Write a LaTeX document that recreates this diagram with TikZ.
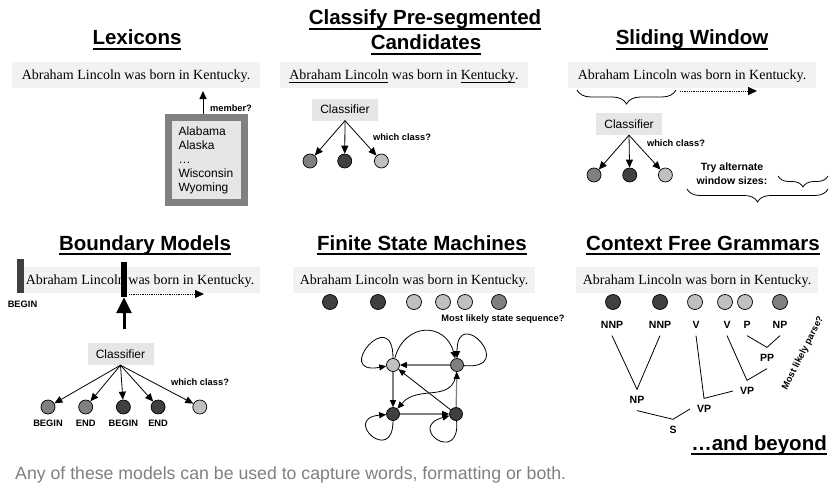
\documentclass[tikz,border=0pt]{standalone}
\usepackage{fontspec}
\setmainfont{Liberation Serif}
\setsansfont{Liberation Sans}
\usepackage{xcolor}
\usepackage{tikz}
\usetikzlibrary{arrows.meta,positioning,decorations.pathreplacing}

\definecolor{sentfill}{HTML}{F2F2F2}
\definecolor{boxfill}{HTML}{E6E6E6}
\definecolor{darkst}{HTML}{404040}
\definecolor{midst}{HTML}{808080}
\definecolor{lightst}{HTML}{C0C0C0}
\definecolor{footgray}{HTML}{7F7F7F}

\newcommand{\barunder}[3]{\setbox0\hbox{#3}\rlap{\rule[-#1]{\wd0}{#2}}\box0\relax}

\begin{document}
\begin{tikzpicture}[
  x=1pt, y=-1pt,
  font=\sffamily,
  >={Triangle[length=8pt,width=7pt]},
  heading/.style={font=\sffamily\bfseries\fontsize{20.5}{24}\selectfont, inner sep=0pt, anchor=base},
  sentence/.style={
    fill=sentfill,
    minimum width=248pt,
    minimum height=26pt,
    inner sep=0pt,
    text height=12pt,
    text depth=2pt,
    font=\rmfamily\fontsize{14}{16}\selectfont
  },
  classbox/.style={fill=boxfill, minimum width=66pt, minimum height=22pt, inner sep=0pt,
    font=\sffamily\fontsize{12}{14}\selectfont},
  state/.style={circle, draw, line width=0.7pt, minimum size=14pt, inner sep=0pt},
  dk/.style={state, fill=darkst},
  md/.style={state, fill=midst},
  lt/.style={state, fill=lightst},
  note/.style={font=\sffamily\bfseries\fontsize{9.3}{11}\selectfont, inner sep=0pt, align=center},
  cls/.style={note, text height=6.8pt, text depth=0pt},
  tag/.style={font=\sffamily\bfseries\fontsize{10.5}{12}\selectfont, inner sep=1pt, outer sep=6pt},
  arrow/.style={->, line width=0.8pt},
  dotarrow/.style={-{Triangle[length=9pt,width=8pt]}, densely dotted, line width=0.8pt},
  fsm/.style={-{Triangle[length=7pt,width=6pt,color=black]}, line width=1.2pt, draw=midst},
  curvy/.style={-{Triangle[length=7pt,width=6pt]}, line width=0.8pt},
  loopy/.style={curvy, min distance=#1},
  bracket/.style={decorate, decoration={brace, mirror, amplitude=#1}, line width=0.8pt},
  branch/.style={line width=0.8pt}
]
\useasboundingbox (0,0) rectangle (830,487);

% Lexicons
\node[heading] (t1) at (137,45) {\barunder{5pt}{2pt}{Lexicons}};
\node[sentence] (s1) at (136,75) {Abraham Lincoln was born in Kentucky.};
\node[draw=midst, line width=7pt, fill=boxfill, minimum width=76.5pt, minimum height=85.5pt,
  text width=56pt, inner xsep=10pt, inner ysep=0pt, align=left,
  font=\sffamily\fontsize{12}{14}\selectfont] (lex) at (206.5,160)
  {Alabama\\Alaska\\…\\Wisconsin\\Wyoming};
\coordinate (memb) at (203,91);
\draw[arrow, line width=1pt] (lex.north -| memb) -- (memb);
\node[note] (mq) at (231,108) {member?};

% Classify Pre-segmented Candidates
\node[heading] (t2a) at (425,25) {\barunder{5pt}{2pt}{Classify Pre-segmented}};
\node[heading] (t2b) at (426,50) {\barunder{5pt}{2pt}{Candidates}};
\node[sentence] (s2) at (404,75) {\barunder{2.5pt}{0.7pt}{Abraham Lincoln} was born in \barunder{2.5pt}{0.7pt}{Kentucky}.};
\node[classbox] (c2) at (345,109.5) {Classifier};
\node[md] (c2a) at (310,161) {};
\node[dk, right=20pt of c2a] (c2b) {};
\node[lt, right=22pt of c2b] (c2c) {};
\draw[arrow] (c2.south) -- (c2a);
\draw[arrow] (c2.south) -- (c2b);
\draw[arrow] (c2.south) -- (c2c);
\node[note] (wq2) at (402,137) {which class?};

% Sliding Window
\node[heading] (t3) at (692,45) {\barunder{5pt}{2pt}{Sliding Window}};
\node[sentence] (s3) at (692,75) {Abraham Lincoln was born in Kentucky.};
\coordinate (w1) at (577,90);
\coordinate (w2) at (676,90);
\draw[bracket=14pt] (w1) -- (w2);
\coordinate (d1) at (680,91);
\coordinate (d2) at (757,91);
\draw[dotarrow] (d1) -- (d2);
\node[classbox] (c3) at (629,124) {Classifier};
\node[md] (c3a) at (594,175) {};
\node[dk, right=21pt of c3a] (c3b) {};
\node[lt, right=21pt of c3b] (c3c) {};
\draw[arrow] (c3.south) -- (c3a);
\draw[arrow] (c3.south) -- (c3b);
\draw[arrow] (c3.south) -- (c3c);
\node[note] (wq3) at (676,143) {which class?};
\node[note, font=\sffamily\bfseries\fontsize{10.5}{14}\selectfont] (try) at (732,174) {Try alternate\\window sizes:};
\coordinate (w3) at (778,176);
\coordinate (w4) at (828,176);
\draw[bracket=11pt] (w3) -- (w4);
\coordinate (w5) at (687,189);
\coordinate (w6) at (828,189);
\draw[bracket=13pt] (w5) -- (w6);

% Boundary Models
\node[heading] (t4) at (145,250) {\barunder{5pt}{2pt}{Boundary Models}};
\node[sentence, minimum width=240pt] (s4) at (140,279.5) {Abraham Lincoln was born in Kentucky.};
\node[fill=darkst, minimum width=7pt, minimum height=34pt, inner sep=0pt] (bar1) at (20.5,276) {};
\node[cls] (bg0) at (22.5,304) {BEGIN};
\node[fill=black, minimum width=6pt, minimum height=35pt, inner sep=0pt] (bar2) at (124,279.5) {};
\coordinate (push) at (124,329);
\draw[-{Triangle[length=16pt,width=15pt]}, line width=3pt] (push) -- (bar2.south);
\coordinate (d3) at (129,294);
\coordinate (d4) at (204,294);
\draw[dotarrow] (d3) -- (d4);
\node[classbox] (c4) at (120.5,354) {Classifier};
\node[md] (c4a) at (48,407) {};
\node[md, right=23pt of c4a] (c4b) {};
\node[dk, right=23pt of c4b] (c4c) {};
\node[dk, right=20pt of c4c] (c4d) {};
\node[lt, right=27pt of c4d] (c4e) {};
\foreach \k in {a,b,c,d,e}
  \draw[arrow] (c4.south) -- (c4\k);
\node[cls, below=5pt of c4a] (l4a) {BEGIN};
\node[cls, below=5pt of c4b] (l4b) {END};
\node[cls, below=5pt of c4c] (l4c) {BEGIN};
\node[cls, below=5pt of c4d] (l4d) {END};
\node[note] (wq4) at (200,382) {which class?};

% Finite State Machines
\node[heading] (t5) at (422,250) {\barunder{5pt}{2pt}{Finite State Machines}};
\node[sentence, minimum width=242pt] (s5) at (414,279.5) {Abraham Lincoln was born in Kentucky.};
\node[dk, minimum size=15pt] (f1) at (330,302) {};
\node[dk, minimum size=15pt] (f2) at (378,302) {};
\node[lt, minimum size=15pt] (f3) at (414,302) {};
\node[lt, minimum size=15pt] (f4) at (443,302) {};
\node[lt, minimum size=15pt] (f5) at (465,302) {};
\node[md, minimum size=15pt] (f6) at (499,302) {};
\node[note] (msq) at (503,319) {Most likely state sequence?};
\node[lt, minimum size=13pt] (q1) at (393,365) {};
\node[md, minimum size=13pt] (q2) at (457,365) {};
\node[dk, minimum size=13pt] (q3) at (393,414) {};
\node[dk, minimum size=13pt] (q4) at (456,414) {};
\draw[fsm] (q2) -- (q1);
\draw[fsm] (q1) -- (q3);
\draw[fsm] (q3) -- (q4);
\draw[fsm] (q4) -- (q2);
\draw[curvy] (q4) -- (q1);
\draw[curvy] (q1) to[out=75, in=105, looseness=1.6] (q2);
\draw[curvy] (q2) to[out=-95, in=50, looseness=1.2] (q3);
\draw[loopy=55pt] (q1) to[out=90, in=190] (q1);
\draw[loopy=55pt] (q2) to[out=-5, in=90] (q2);
\draw[loopy=45pt] (q3) to[out=-90, in=185] (q3);
\draw[loopy=45pt] (q4) to[out=-85, in=195] (q4);

% Context Free Grammars
\node[heading] (t6) at (703,250) {\barunder{5pt}{2pt}{Context Free Grammars}};
\node[sentence, minimum width=242pt] (s6) at (697,279.5) {Abraham Lincoln was born in Kentucky.};
\node[dk, minimum size=15pt] (g1) at (613,302) {};
\node[dk, minimum size=15pt] (g2) at (660,302) {};
\node[lt, minimum size=15pt] (g3) at (695,302) {};
\node[lt, minimum size=15pt] (g4) at (725,302) {};
\node[lt, minimum size=15pt] (g5) at (745,302) {};
\node[md, minimum size=15pt] (g6) at (780,302) {};
\node[tag] (nnp1) at (612,325) {NNP};
\node[tag] (nnp2) at (660,325) {NNP};
\node[tag] (v1) at (696,325) {V};
\node[tag] (v2) at (727,325) {V};
\node[tag] (p1) at (747,325) {P};
\node[tag] (np3) at (780,325) {NP};
\node[tag] (pp) at (767,358) {PP};
\node[tag] (vp1) at (747,391) {VP};
\node[tag] (np1) at (637,400) {NP};
\node[tag] (vp2) at (704,409) {VP};
\node[tag] (s) at (673,430) {S};
\draw[branch] (nnp1.south) -- (np1.north) -- (nnp2.south);
\draw[branch] (v1.south) -- (vp2.north) -- (vp1.west);
\draw[branch] (v2.south) -- (vp1.north) -- (pp.south);
\draw[branch] (p1.south) -- (pp.north) -- (np3.south);
\draw[branch] (np1.south) -- (s.north) -- (vp2.west);
\node[note, rotate=63] (mlp) at (803,353) {Most likely parse?};
\node[heading, anchor=base east] (beyond) at (827,450) {\barunder{5pt}{2pt}{…and beyond}};

\node[font=\sffamily\fontsize{17.7}{20}\selectfont, text=footgray, anchor=base west, inner sep=0pt]
  (foot) at (15,479) {Any of these models can be used to capture words, formatting or both.};
\end{tikzpicture}
\end{document}
